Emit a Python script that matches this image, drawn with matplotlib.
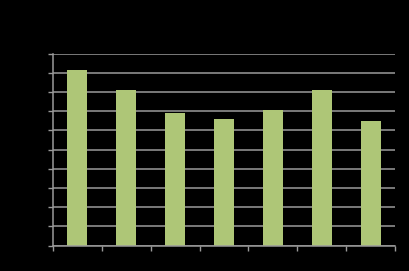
import matplotlib
matplotlib.use("Agg")
import matplotlib.pyplot as plt
import numpy as np

categories = ["1", "2", "3", "4", "5", "6", "7"]
values = [9.15, 8.1, 6.92, 6.57, 7.07, 8.1, 6.48]
yticks = list(range(0, 11))

fig = plt.figure(figsize=(4.09, 2.71), dpi=100, facecolor="black")
ax = fig.add_axes([53/409, (271-245.5)/271, (395-53)/409, (245.5-53.5)/271])
ax.set_facecolor("black")

x = np.arange(len(categories))
ax.bar(x, values, width=0.41, color="#AEC677", zorder=3)

grid_c = "#9a9a9a"
ax.set_ylim(0, 10)
ax.set_xlim(-0.5, len(categories) - 0.5)
ax.set_yticks(yticks)
ax.set_yticklabels([])
ax.set_xticks(np.arange(-0.5, len(categories), 1.0))
ax.set_xticklabels([])
ax.grid(axis="y", color=grid_c, linewidth=1.1, zorder=1)
ax.tick_params(axis="both", colors=grid_c, length=3.5, width=1.0, direction="out")
for s in ["top", "right"]:
    ax.spines[s].set_visible(False)
for s in ["left", "bottom"]:
    ax.spines[s].set_color(grid_c)
    ax.spines[s].set_linewidth(1.1)
    ax.spines[s].set_zorder(4)

fig.savefig("out.png", dpi=100, facecolor="black")
